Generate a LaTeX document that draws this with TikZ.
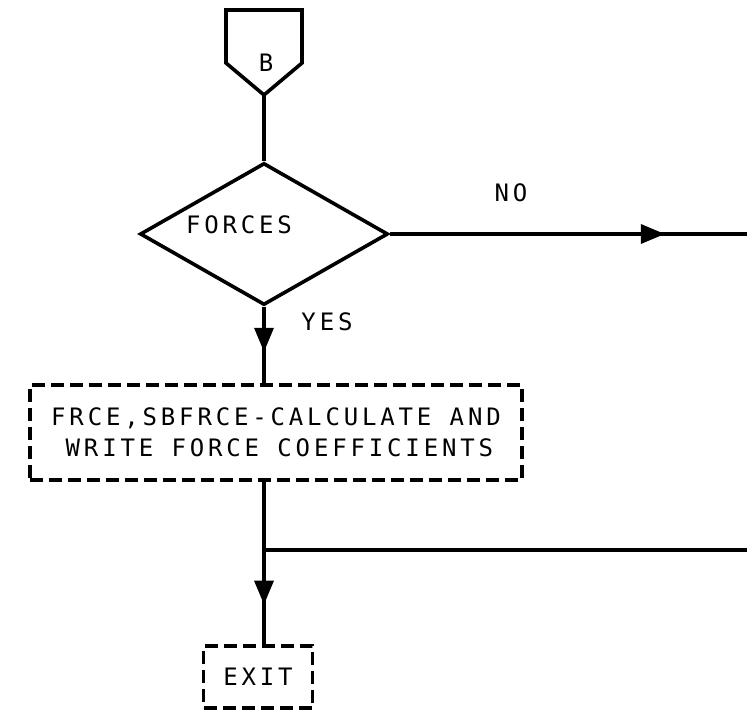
\documentclass[tikz,border=0pt]{standalone}
\usepackage{fontspec}
\usepackage{tikz}
\usetikzlibrary{shapes.geometric,arrows.meta,decorations.markings}
\newfontfamily\plotfont[LetterSpace=16]{DejaVu Sans Mono}

\begin{document}
\begin{tikzpicture}[x=1pt,y=-1pt,
        linea/.style={line width=3.6pt},
        testo/.style={font=\plotfont\fontsize{24}{31}\selectfont,inner sep=0pt},
        tratteggio/.style={draw,line width=3.2pt,dash pattern=on 13pt off 6pt},
        freccia/.style={postaction={decorate},decoration={markings,
            mark=at position #1 with {\arrow{Triangle[length=24pt,width=19pt]}}}}]
        \useasboundingbox (0,0) rectangle (747,711);
        % Connettore B
        \draw[linea,line join=miter] (226,10) -- (302,10) -- (302,63) -- (264,95) -- (226,63) -- cycle;
        \coordinate (btip) at (264,95);
        \node[testo] (connB) at (266,63) {B};
        % Decisione
        \node[draw,linea,shape=diamond,shape aspect=1.75,inner sep=0pt,
              minimum width=248pt,minimum height=142pt] (forces) at (264,234) {};
        \node[testo] (forcestxt) at (239,225) {FORCES};
        % Blocchi
        \node[testo,tratteggio,align=left,minimum width=492pt,minimum height=95pt] (calcolo) at (276,432.5)
            {FRCE,SBFRCE-CALCULATE AND\\\phantom{W}WRITE FORCE COEFFICIENTS};
        \node[testo,tratteggio,minimum width=109pt,minimum height=62pt] (exit) at (258,677) {EXIT};
        % Collegamenti
        \coordinate (noesce) at (747,234);
        \coordinate (ritorno) at (747,550);
        \coordinate (giunto) at (264,550);
        \draw[linea] (btip) -- (forces.north);
        \draw[linea,freccia=275pt] (forces.east) -- (noesce);
        \node[testo] (no) at (511,193) {NO};
        \draw[linea,freccia=45pt] (forces.south) -- (calcolo.north -| forces.south);
        \node[testo] (si) at (327,322) {YES};
        \draw[linea,freccia=123pt] (calcolo.south -| forces.south) -- (exit.north -| forces.south);
        \draw[linea] (ritorno) -- (giunto);
    \end{tikzpicture}
\end{document}
